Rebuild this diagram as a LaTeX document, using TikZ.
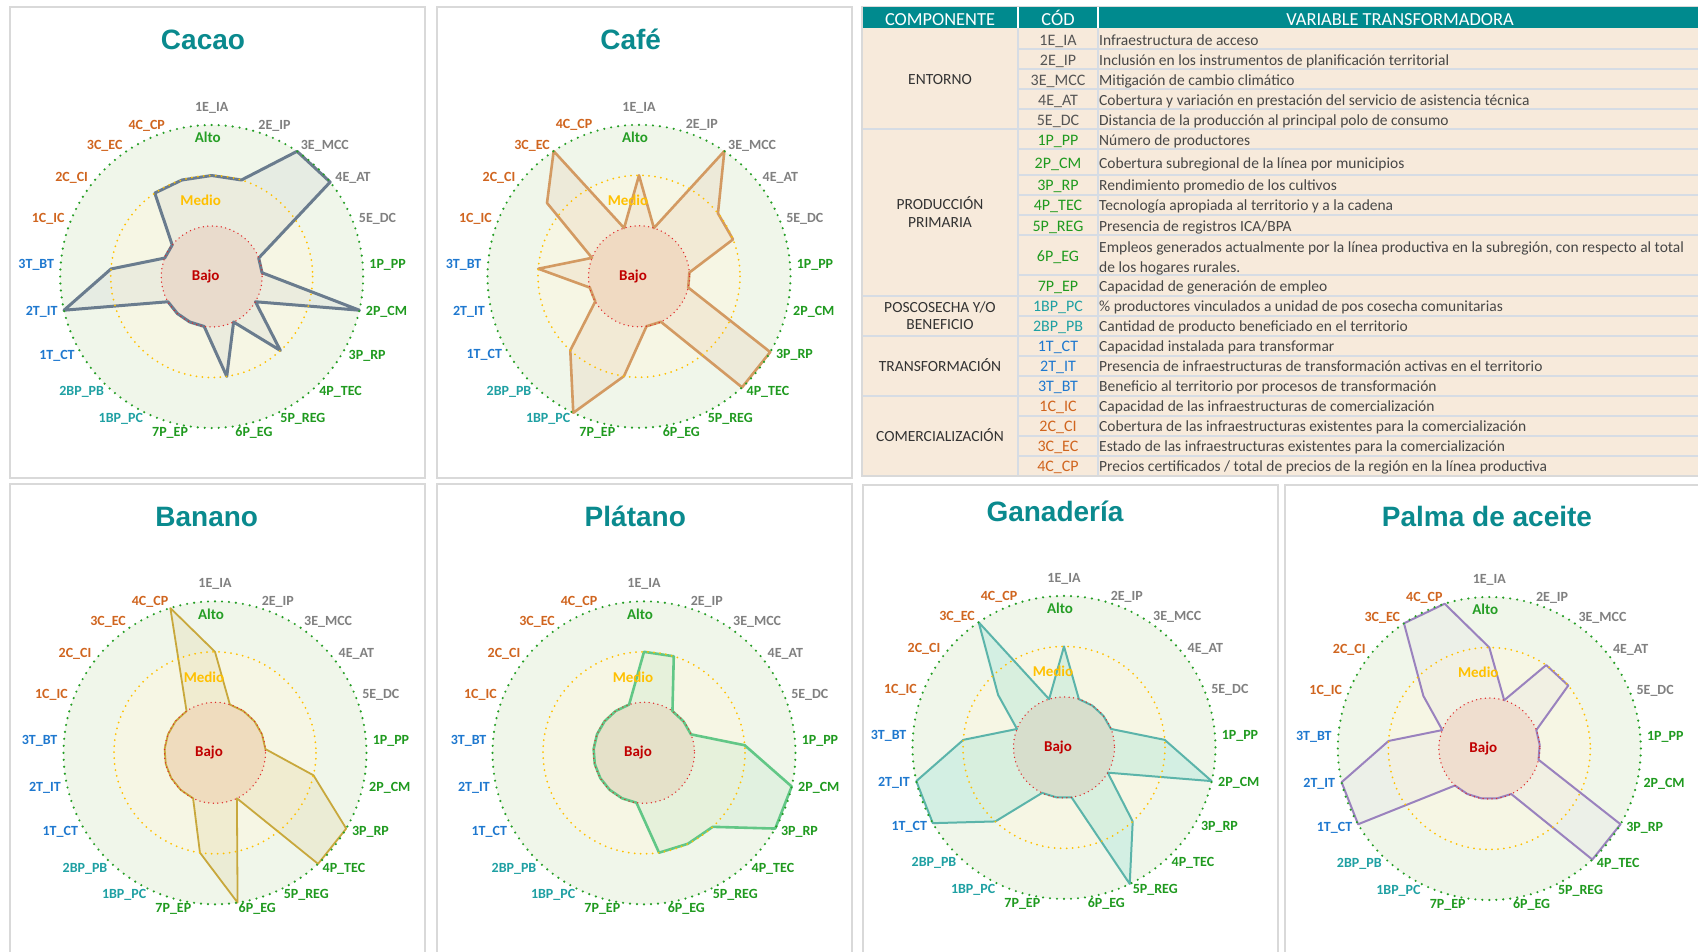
\documentclass[tikz,border=0pt]{standalone}
\usepackage{fontspec}
\setmainfont{Carlito}
\newfontfamily\fuenteTitulo{Liberation Sans}
\usetikzlibrary{calc}

\definecolor{tituloC}{HTML}{0A8A8E}
\definecolor{codE}{HTML}{808080}
\definecolor{tabE}{HTML}{555555}
\definecolor{codP}{HTML}{1F9A1F}
\definecolor{codBP}{HTML}{1FA0A3}
\definecolor{codT}{HTML}{1E78CF}
\definecolor{codC}{HTML}{D0651F}
\definecolor{altoC}{HTML}{259E25}
\definecolor{medioC}{HTML}{FFC000}
\definecolor{bajoC}{HTML}{C00000}
\definecolor{bajoP}{HTML}{E02A2A}
\definecolor{altoF}{HTML}{F0F6EA}
\definecolor{medioF}{HTML}{F6F6E4}
\definecolor{bajoF}{HTML}{F4E2CE}
\definecolor{cacaoC}{HTML}{6A7C8E}
\definecolor{cafeC}{HTML}{D39A62}
\definecolor{bananoC}{HTML}{C8A83C}
\definecolor{platanoC}{HTML}{62C786}
\definecolor{ganaderiaC}{HTML}{5BB4AA}
\definecolor{palmaC}{HTML}{9A82BE}
\definecolor{cabecera}{HTML}{008A8E}
\definecolor{fondoTabla}{HTML}{F7EADB}
\definecolor{lineaTabla}{HTML}{D6DCE4}
\definecolor{bordeC}{HTML}{D9D9D9}

\tikzset{
  panel/.style={draw=bordeC, line width=1.5pt, fill=white},
  titulo/.style={inner sep=0pt, anchor=base, text=tituloC, font=\fuenteTitulo\bfseries\fontsize{28}{32}\selectfont},
  eje/.style={inner sep=0pt, font=\bfseries\fontsize{14}{16}\selectfont},
  nivel/.style={inner sep=0pt, font=\bfseries\fontsize{15}{17}\selectfont},
  puntosAlto/.style={draw=altoC, line width=2.4pt, line cap=round, dash pattern=on 0pt off 7pt},
  puntosMedio/.style={draw=medioC, line width=2pt, line cap=round, dash pattern=on 0pt off 6pt},
  puntosBajo/.style={draw=bajoP, line width=1.5pt, line cap=round, dash pattern=on 0pt off 4.5pt},
  serie/.style={line join=round, fill opacity=0.18},
  cacaoS/.style={serie, draw=cacaoC, fill=cacaoC!55, fill opacity=0.15, line width=3pt},
  cafeS/.style={serie, draw=cafeC, fill=cafeC!70, line width=2.6pt},
  bananoS/.style={serie, draw=bananoC, fill=bananoC!70, line width=1.8pt},
  platanoS/.style={serie, draw=platanoC, fill=platanoC!60, line width=2.6pt},
  ganaderiaS/.style={serie, draw=ganaderiaC, fill=ganaderiaC!70!cyan, fill opacity=0.16, line width=2pt},
  palmaS/.style={serie, draw=palmaC, fill=palmaC!50, fill opacity=0.1, line width=2pt},
  cabTxt/.style={inner sep=0pt, anchor=base, text=white, font=\fontsize{18.4}{20}\selectfont},
  codigo/.style={inner sep=0pt, anchor=base, font=\fontsize{16}{18}\selectfont},
  varTxt/.style={inner sep=0pt, anchor=base west, text=black!72, font=\fontsize{15.5}{18}\selectfont},
  componente/.style={inner sep=0pt, anchor=base, text=black!80, font=\fontsize{15.5}{18}\selectfont},
  lineaFila/.style={draw=lineaTabla, line width=1.5pt}
}

\newcommand{\radUnit}{50.5}
\newcommand{\listaEjes}{1E\_IA/codE, 2E\_IP/codE, 3E\_MCC/codE, 4E\_AT/codE, 5E\_DC/codE, 1P\_PP/codP, 2P\_CM/codP, 3P\_RP/codP, 4P\_TEC/codP, 5P\_REG/codP, 6P\_EG/codP, 7P\_EP/codP, 1BP\_PC/codBP, 2BP\_PB/codBP, 1T\_CT/codT, 2T\_IT/codT, 3T\_BT/codT, 1C\_IC/codC, 2C\_CI/codC, 3C\_EC/codC, 4C\_CP/codC}

\newcommand{\radar}[3]{%
  \fill[altoF] (#1) circle[radius=3*\radUnit];
  \fill[medioF] (#1) circle[radius=2*\radUnit];
  \fill[bajoF] (#1) circle[radius=\radUnit];
  \foreach \v [count=\i from 0] in {#3}
    \coordinate (#1-p\i) at ($(#1)+({\i*360/21-90}:{\v*\radUnit})$);
  \filldraw[#2] (#1-p0) \foreach \i in {1,...,20}{-- (#1-p\i)} -- cycle;
  \draw[puntosAlto] (#1) circle[radius=3*\radUnit];
  \draw[puntosMedio] (#1) circle[radius=2*\radUnit];
  \draw[puntosBajo] (#1) circle[radius=\radUnit];
  \node[nivel, text=altoC] (#1-alto) at ($(#1)+(-4,-139)$) {Alto};
  \node[nivel, text=medioC] (#1-medio) at ($(#1)+(-11,-76)$) {Medio};
  \node[nivel, text=bajoC] (#1-bajo) at ($(#1)+(-6,0)$) {Bajo};
  \foreach \lab/\col [count=\i from 0] in \listaEjes {
    \ifnum\i=0 \def\anc{south}\def\dist{163}\else\ifnum\i<11 \def\anc{west}\def\dist{158}\else\def\anc{east}\def\dist{158}\fi\fi
    \node[eje, text=\col, anchor=\anc] (#1-e\i) at ($(#1)+({\i*360/21-90}:\dist)$) {\lab};
  }
}

\begin{document}
\begin{tikzpicture}[x=1pt, y=-1pt]
\fill[white] (0,0) rectangle (1698,951);
\useasboundingbox (0,0) rectangle (1698,951);

\draw[panel] (10,7) rectangle (425,478);
\draw[panel] (437,7) rectangle (852,478);
\draw[panel] (10,484) rectangle (425,960);
\draw[panel] (437,484) rectangle (852,960);
\draw[panel] (863,485) rectangle (1278,960);
\draw[panel] (1285,485) rectangle (1710,960);

\coordinate (cacao) at (211.7,276.5);
\coordinate (cafe) at (639,276.3);
\coordinate (banano) at (215,752.8);
\coordinate (platano) at (644,752.8);
\coordinate (ganaderia) at (1064,747.4);
\coordinate (palma) at (1489.3,748.5);

\node[titulo] (tCacao) at (203,49.3) {Cacao};
\node[titulo] (tCafe) at (630.7,49.3) {Café};
\node[titulo] (tBanano) at (206.7,526) {Banano};
\node[titulo] (tPlatano) at (635.3,526) {Plátano};
\node[titulo] (tGanaderia) at (1055,521.7) {Ganadería};
\node[titulo] (tPalma) at (1487,526) {Palma de aceite};

\radar{cacao}{cacaoS}{2,2,3,3,1,1,3,1,2,1,2,1,1,1,1,3,2,1,1,2,2}
\radar{cafe}{cafeS}{2,1,3,2,2,1,1,3,3,1,1,2,3,2,1,1,2,1,2.33,3,1}
\radar{banano}{bananoS}{2,1,1,1,1,1,2,3,3,1,3,2,1,1,1,1,1,1,1,1,3}
\radar{platano}{platanoS}{2,2,1,1,1,2,3,3,2,2,2,1,1,1,1,1,1,1,1,1,1}
\radar{ganaderia}{ganaderiaS}{2,1,1,1,1,2,3,1,2,3,1,1,1,2,3,3,2,1,1.67,3,1}
\radar{palma}{palmaS}{2,1,2,2,1,1,1,3,3,1,1,1,1,1,3,3,2,1,1.67,3,3}

\begin{scope}
\clip (860,0) rectangle (1698,480);
\fill[fondoTabla] (862,28) rectangle (1700,476);
\fill[cabecera] (862,7) rectangle (1700,28);
\draw[draw=white, line width=1.5pt] (1018,7) -- (1018,28) (1098,7) -- (1098,28);
\foreach \y in {49,69,89,109,149,175,195,215,235,275,316,356,376,416,436,456}
  \draw[lineaFila] (1018,\y) -- (1700,\y);
\foreach \y in {129,296,336,396}
  \draw[lineaFila] (862,\y) -- (1700,\y);
\draw[lineaFila] (1018,28) -- (1018,476) (1098,28) -- (1098,476);
\draw[draw=bordeC, line width=1.5pt] (862,6) -- (862,476) -- (1700,476);
\draw[draw=bordeC, line width=1pt] (862,6) -- (1700,6);

\node[cabTxt] (hComp) at (940,25) {COMPONENTE};
\node[cabTxt] (hCod) at (1058,25) {CÓD};
\node[cabTxt] (hVar) at (1400,25) {VARIABLE TRANSFORMADORA};

\node[componente] (comp1) at (940,84) {ENTORNO};
\node[componente] (comp2a) at (940,209) {PRODUCCIÓN};
\node[componente] (comp2b) at (940,227) {PRIMARIA};
\node[componente] (comp3a) at (940,312.7) {POSCOSECHA Y/O};
\node[componente] (comp3b) at (940,329.3) {BENEFICIO};
\node[componente] (comp4) at (940,371.7) {TRANSFORMACIÓN};
\node[componente] (comp5) at (940,441.7) {COMERCIALIZACIÓN};

\foreach \cod/\col/\y [count=\k] in {1E\_IA/tabE/40, 2E\_IP/tabE/60, 3E\_MCC/tabE/80, 4E\_AT/tabE/100, 5E\_DC/tabE/120, 1P\_PP/codP/140, 2P\_CM/codP/163, 3P\_RP/codP/185, 4P\_TEC/codP/205, 5P\_REG/codP/226, 6P\_EG/codP/256.5, 7P\_EP/codP/286.5, 1BP\_PC/codBP/306.5, 2BP\_PB/codBP/326.5, 1T\_CT/codT/346.5, 2T\_IT/codT/366.5, 3T\_BT/codT/386.5, 1C\_IC/codC/406.5, 2C\_CI/codC/426.5, 3C\_EC/codC/446.5, 4C\_CP/codC/466.5}
  \node[codigo, text=\col] (cod\k) at (1058,\y+5) {\cod};

\foreach \y/\txt [count=\k] in {40/{Infraestructura de acceso}, 60/{Inclusión en los instrumentos de planificación territorial}, 80/{Mitigación de cambio climático}, 100/{Cobertura y variación en prestación del servicio de asistencia técnica}, 120/{Distancia de la producción al principal polo de consumo}, 140/{Número de productores}, 163/{Cobertura subregional de la línea por municipios}, 185/{Rendimiento promedio de los cultivos}, 205/{Tecnología apropiada al territorio y a la cadena}, 226/{Presencia de registros ICA/BPA}, 247/{Empleos generados actualmente por la línea productiva en la subregión, con respecto al total}, 267/{de los hogares rurales.}, 286.5/{Capacidad de generación de empleo}, 306.5/{\% productores vinculados a unidad de pos cosecha comunitarias}, 326.5/{Cantidad de producto beneficiado en el territorio}, 346.5/{Capacidad instalada para transformar}, 366.5/{Presencia de infraestructuras de transformación activas en el territorio}, 386.5/{Beneficio al territorio por procesos de transformación}, 406.5/{Capacidad de las infraestructuras de comercialización}, 426.5/{Cobertura de las infraestructuras existentes para la comercialización}, 446.5/{Estado de las infraestructuras existentes para la comercialización}, 466.5/{Precios certificados / total de precios de la región en la línea productiva}}
  \node[varTxt] (var\k) at (1099,\y+5) {\txt};
\end{scope}
\end{tikzpicture}
\end{document}
